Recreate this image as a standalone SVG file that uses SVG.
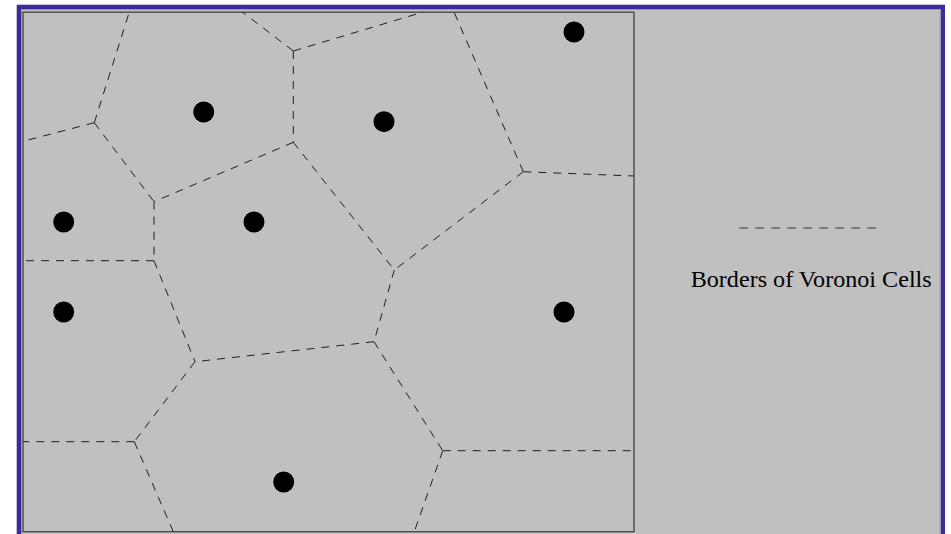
<svg xmlns="http://www.w3.org/2000/svg" width="951" height="534" viewBox="0 0 951 534">
<style>
.frame{fill:#c0c0c0;stroke:#3d2a95;stroke-width:4.3}
.frame-in{fill:none;stroke:#9a93c4;stroke-width:1}
.plot{fill:#c0c0c0;stroke:#4a4a4a;stroke-width:1.4}
.edge{stroke:#1e1e1e;stroke-width:1;stroke-dasharray:8 7;fill:none}
.site{fill:#000}
.legend-line{stroke:#3a3a3a;stroke-width:1.2;stroke-dasharray:9 7}
.legend-text{font-family:"Liberation Serif","Times New Roman",serif;font-size:23px;fill:#000}
</style>
<rect width="951" height="534" fill="#ffffff"/>
<rect class="frame" x="18.85" y="6.85" width="924" height="600"/>
<rect class="frame-in" x="21.5" y="9.5" width="918.7" height="600"/>
<rect class="plot" x="23" y="12.2" width="611" height="519.5"/>
<g id="connectors">
<line class="edge" x1="94.3" y1="122.7" x2="129.3" y2="12"/>
<line class="edge" x1="94.3" y1="122.7" x2="23" y2="141.3"/>
<line class="edge" x1="94.3" y1="122.7" x2="154" y2="201.7"/>
<line class="edge" x1="293.3" y1="51" x2="242.3" y2="12"/>
<line class="edge" x1="293.3" y1="51" x2="423.3" y2="12"/>
<line class="edge" x1="293.3" y1="51" x2="293.3" y2="142.3"/>
<line class="edge" x1="293.3" y1="142.3" x2="154" y2="201.7"/>
<line class="edge" x1="293.3" y1="142.3" x2="394.3" y2="270"/>
<line class="edge" x1="523.3" y1="171.7" x2="454" y2="12"/>
<line class="edge" x1="523.3" y1="171.7" x2="634" y2="176"/>
<line class="edge" x1="523.3" y1="171.7" x2="394.3" y2="270"/>
<line class="edge" x1="394.3" y1="270" x2="374" y2="341.7"/>
<line class="edge" x1="374" y1="341.7" x2="195" y2="361.7"/>
<line class="edge" x1="374" y1="341.7" x2="442.7" y2="450.7"/>
<line class="edge" x1="154" y1="201.7" x2="154" y2="260.7"/>
<line class="edge" x1="154" y1="260.7" x2="23" y2="260.7"/>
<line class="edge" x1="154" y1="260.7" x2="195" y2="361.7"/>
<line class="edge" x1="195" y1="361.7" x2="134.3" y2="441.7"/>
<line class="edge" x1="134.3" y1="441.7" x2="23" y2="441.7"/>
<line class="edge" x1="134.3" y1="441.7" x2="173.3" y2="531.7"/>
<line class="edge" x1="442.7" y1="450.7" x2="634" y2="450.7"/>
<line class="edge" x1="442.7" y1="450.7" x2="414.3" y2="531.7"/>
</g>
<g id="site-1"><circle class="site" cx="203.7" cy="112" r="10.5"/></g>
<g id="site-2"><circle class="site" cx="384" cy="121.7" r="10.5"/></g>
<g id="site-3"><circle class="site" cx="574" cy="32" r="10.5"/></g>
<g id="site-4"><circle class="site" cx="63.7" cy="222" r="10.5"/></g>
<g id="site-5"><circle class="site" cx="254" cy="222" r="10.5"/></g>
<g id="site-6"><circle class="site" cx="63.7" cy="312" r="10.5"/></g>
<g id="site-7"><circle class="site" cx="564" cy="312" r="10.5"/></g>
<g id="site-8"><circle class="site" cx="283.7" cy="482" r="10.5"/></g>
<g id="legend">
<line class="legend-line" x1="739.3" y1="228" x2="877" y2="228"/>
<text class="legend-text" x="690.7" y="287.3" textLength="241" lengthAdjust="spacingAndGlyphs">Borders of Voronoi Cells</text>
</g>
</svg>
